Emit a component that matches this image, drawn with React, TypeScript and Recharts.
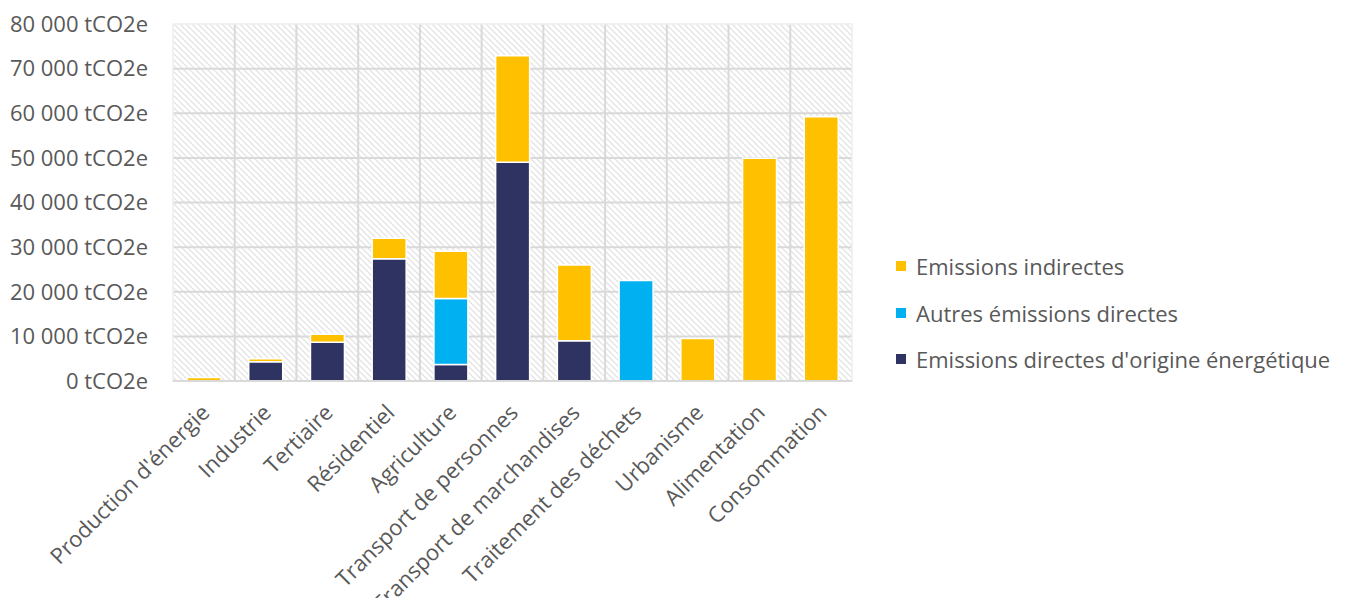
import React from 'react';
import { BarChart, Bar, XAxis, YAxis, CartesianGrid, Legend, ReferenceArea } from 'recharts';

const categories = [
  "Production d'énergie",
  'Industrie',
  'Tertiaire',
  'Résidentiel',
  'Agriculture',
  'Transport de personnes',
  'Transport de marchandises',
  'Traitement des déchets',
  'Urbanisme',
  'Alimentation',
  'Consommation',
];

const directEnergie = [0, 4300, 8700, 27400, 3700, 49000, 9000, 0, 0, 0, 0];
const autresDirectes = [0, 0, 0, 0, 14800, 0, 0, 22500, 0, 0, 0];
const indirectes = [800, 700, 1800, 4600, 10600, 23900, 17000, 0, 9500, 49900, 59200];

const yTicks = [0, 10000, 20000, 30000, 40000, 50000, 60000, 70000, 80000];

const seriesNames = {
  energie: "Emissions directes d'origine énergétique",
  autres: 'Autres émissions directes',
  indirectes: 'Emissions indirectes',
};

const colors = {
  energie: '#2E3361',
  autres: '#00B0F0',
  indirectes: '#FFC000',
};

const legendOrder: Array<'indirectes' | 'autres' | 'energie'> = ['indirectes', 'autres', 'energie'];

const data = categories.map((name, i) => ({
  name,
  energie: directEnergie[i],
  autres: autresDirectes[i],
  indirectes: indirectes[i],
}));

const FONT = '"Open Sans", "Noto Sans", sans-serif';
const TEXT = '#595959';
const FS = 22;

const fmt = (v: number) => {
  const s = String(Math.round(v)).replace(/\B(?=(\d{3})+(?!\d))/g, ' ');
  return `${s} tCO2e`;
};

const XTick = (props: any) => {
  const { x, y, payload } = props;
  const px = x + 7;
  const py = y + 33;
  return (
    <text
      x={px}
      y={py}
      transform={`rotate(-45 ${px} ${py})`}
      textAnchor="end"
      fill={TEXT}
      fontSize={FS}
      fontFamily={FONT}
    >
      {payload.value}
    </text>
  );
};

const LegendContent = () => (
  <div style={{ fontFamily: FONT, fontSize: FS, color: TEXT }}>
    {legendOrder.map((k) => (
      <div
        key={k}
        style={{ display: 'flex', alignItems: 'center', height: 46.5, whiteSpace: 'nowrap' }}
      >
        <span
          style={{ display: 'inline-block', width: 10, height: 10, background: colors[k], marginRight: 10 }}
        />
        <span>{seriesNames[k]}</span>
      </div>
    ))}
  </div>
);

export default function App() {
  const nCat = categories.length;
  return (
    <div style={{ width: 1329, height: 590, position: 'relative' }}>
      <BarChart
        width={1329}
        height={590}
        data={data}
        margin={{ top: 16, right: 485, bottom: 17, left: 0 }}
      >
        <defs>
          <pattern id="hatch" width="6" height="6" patternUnits="userSpaceOnUse">
            <rect width="6" height="6" fill="#ffffff" />
            <path d="M0,0 L6,6 M-1,5 L1,7 M5,-1 L7,1" stroke="#e4e4e4" strokeWidth="1.3" />
          </pattern>
        </defs>
        <CartesianGrid
          fill="url(#hatch)"
          fillOpacity={1}
          stroke="#d9d9d9"
          strokeWidth={2}
          verticalCoordinatesGenerator={({ offset }: any) => {
            const arr: number[] = [];
            for (let i = 1; i < nCat; i++) arr.push(offset.left + (offset.width * i) / nCat);
            return arr;
          }}
          horizontalCoordinatesGenerator={({ offset }: any) => {
            const arr: number[] = [];
            for (let i = 1; i < yTicks.length - 1; i++)
              arr.push(offset.top + offset.height * (1 - yTicks[i] / yTicks[yTicks.length - 1]));
            return arr;
          }}
        />
        <ReferenceArea y1={0} y2={80000} fill="none" stroke="#eeeeee" strokeWidth={1.5} />
        <XAxis
          dataKey="name"
          interval={0}
          height={200}
          tickLine={false}
          tickSize={0}
          tickMargin={0}
          axisLine={{ stroke: '#d9d9d9', strokeWidth: 2 }}
          tick={<XTick />}
        />
        <YAxis
          width={165}
          domain={[0, 80000]}
          ticks={yTicks}
          tickFormatter={fmt}
          axisLine={false}
          tickLine={false}
          tickSize={0}
          tickMargin={25}
          tick={{ fill: TEXT, fontSize: FS, fontFamily: FONT }}
        />
        <Legend
          layout="vertical"
          align="center"
          verticalAlign="middle"
          content={<LegendContent />}
          wrapperStyle={{ left: 888, top: 235, width: 440, height: 140 }}
        />
        <Bar dataKey="energie" name={seriesNames.energie} stackId="a" fill={colors.energie} stroke="#ffffff" strokeWidth={1.5} barSize={34} isAnimationActive={false} />
        <Bar dataKey="autres" name={seriesNames.autres} stackId="a" fill={colors.autres} stroke="#ffffff" strokeWidth={1.5} barSize={34} isAnimationActive={false} />
        <Bar dataKey="indirectes" name={seriesNames.indirectes} stackId="a" fill={colors.indirectes} stroke="#ffffff" strokeWidth={1.5} barSize={34} isAnimationActive={false} />
      </BarChart>
    </div>
  );
}
